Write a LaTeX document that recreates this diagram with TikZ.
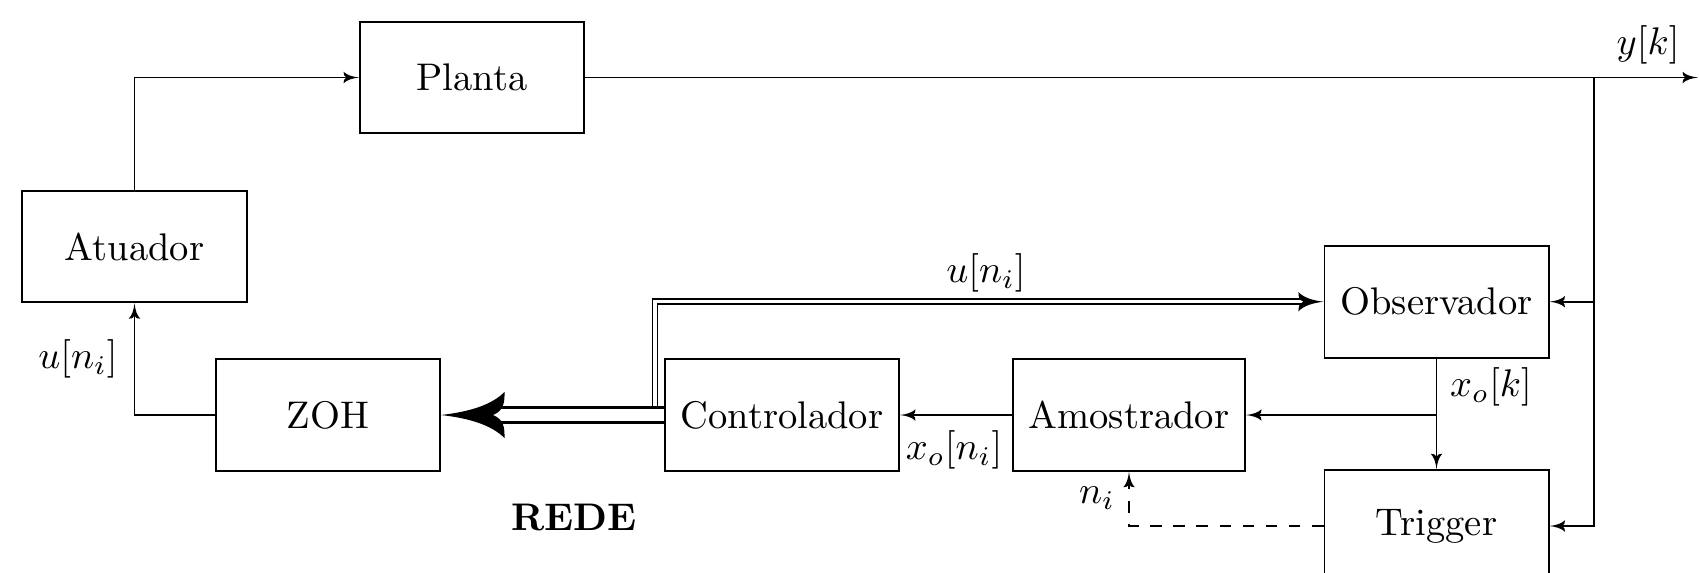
\documentclass[tikz,border=0pt]{standalone}
\usetikzlibrary{arrows.meta,calc}
\makeatletter
\pgfdeclarearrow{
  name = CStealth,
  parameters = {\the\pgfarrowlength,\the\pgfarrowwidth,\the\pgfarrowinset},
  setup code = {
    \pgfarrowssettipend{0pt}
    \pgfarrowssetbackend{-\pgfarrowlength}
    \pgf@x=-\pgfarrowlength
    \advance\pgf@x by \pgfarrowinset
    \advance\pgf@x by 0.3pt
    \pgfarrowssetlineend{\pgf@x}
    \pgfarrowssavethe\pgfarrowlength
    \pgfarrowssavethe\pgfarrowwidth
    \pgfarrowssavethe\pgfarrowinset
  },
  drawing code = {
    \pgfpathmoveto{\pgfpoint{0pt}{0pt}}
    \pgfpathcurveto{\pgfpoint{-0.45\pgfarrowlength}{0.07\pgfarrowwidth}}{\pgfpoint{-0.8\pgfarrowlength}{0.22\pgfarrowwidth}}{\pgfpoint{-\pgfarrowlength}{0.5\pgfarrowwidth}}
    \pgfpathcurveto{\pgfpoint{-\pgfarrowlength}{0.3\pgfarrowwidth}}{\pgfpoint{-\pgfarrowlength}{0.1\pgfarrowwidth}}{\pgfpoint{-\pgfarrowlength+\pgfarrowinset}{0pt}}
    \pgfpathcurveto{\pgfpoint{-\pgfarrowlength}{-0.1\pgfarrowwidth}}{\pgfpoint{-\pgfarrowlength}{-0.3\pgfarrowwidth}}{\pgfpoint{-\pgfarrowlength}{-0.5\pgfarrowwidth}}
    \pgfpathcurveto{\pgfpoint{-0.8\pgfarrowlength}{-0.22\pgfarrowwidth}}{\pgfpoint{-0.45\pgfarrowlength}{-0.07\pgfarrowwidth}}{\pgfpoint{0pt}{0pt}}
    \pgfpathclose
    \pgfusepathqfill
  },
  defaults = {length=4pt, width=3pt, inset=1pt}
}
\makeatother
\begin{document}
\begin{tikzpicture}[x=0.2597pt,y=-0.2597pt,
  block/.style={draw, line width=0.5pt, minimum width=58.2pt, minimum height=29pt},
  sig/.style={line width=0.45pt, -{CStealth[length=4pt,width=3pt,inset=1pt]}},
  lbl/.style={inner sep=0pt},
  thinnet/.style={double, line width=0.4pt, double distance=0.9pt, -{CStealth[length=6.5pt,width=5pt,inset=1.3pt]}},
  thicknet/.style={double, line width=0.85pt, double distance=2.95pt, -{CStealth[length=16.5pt,width=12pt,inset=3pt]}},
  ]
\useasboundingbox (0,0) rectangle (1699,572);
\node[block] (planta) at (472,77.5) {Planta};
\node[block] (atuador) at (134.5,246.5) {Atuador};
\node[block] (zoh) at (328,415) {ZOH};
\node[block, minimum width=60.8pt] (ctrl) at (782,415) {Controlador};
\node[block, minimum width=60.3pt] (amos) at (1129,415) {Amostrador};
\node[block] (obs) at (1436.5,301.7) {Observador};
\node[block] (trig) at (1436.5,526) {Trigger};
\coordinate (out) at (1698,77.5);
\coordinate (jy) at (1594,77.5);
\coordinate (jx) at (1436.5,415);
\coordinate (cd) at (655,415);

\draw[sig] (atuador.north) |- (planta.west);
\draw[sig] (zoh.west) -| (atuador.south);
\draw[sig] (planta.east) -- (out);
\draw[sig] (jy) |- (obs.east);
\draw[sig] (jy) |- (trig.east);
\draw[sig] (obs.south) -- (trig.north);
\draw[sig] (jx) -- (amos.east);
\draw[sig] (amos.west) -- (ctrl.east);
\draw[sig, dashed] (trig.west) -| (amos.south);
\draw[thinnet] (cd) |- (obs.west);
\draw[thicknet] (ctrl.west) -- (zoh.east);

\node[lbl] (lu1) at (78,359) {$u[n_i]$};
\node[lbl] (lu2) at (986,273) {$u[n_i]$};
\node[lbl] (lxn) at (954,450) {$x_o[n_i]$};
\node[lbl] (lxk) at (1491,387) {$x_o[k]$};
\node[lbl] (lni) at (1097,498) {$n_i$};
\node[lbl] (ly) at (1648,45) {$y[k]$};
\node[lbl,font=\bfseries] (rede) at (574,517) {REDE};
\end{tikzpicture}
\end{document}
